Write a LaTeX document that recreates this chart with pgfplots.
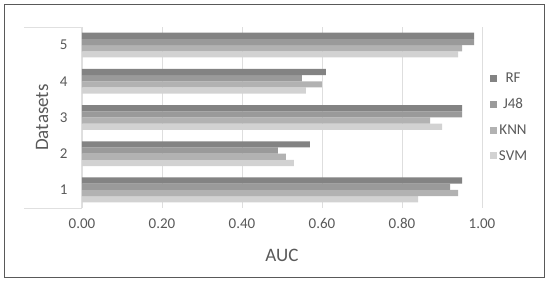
\documentclass[border=0pt]{standalone}
\usepackage{pgfplots}
\pgfplotsset{compat=1.18}
\usepackage{fontspec}
\setmainfont{Carlito}
\definecolor{txt}{HTML}{595959}
\definecolor{cRF}{HTML}{838383}
\definecolor{cJ}{HTML}{9A9A9A}
\definecolor{cK}{HTML}{B2B2B2}
\definecolor{cS}{HTML}{D2D2D2}
\begin{document}
\begin{tikzpicture}[x=1pt,y=1pt]
\path (-82,-75) rectangle (468,208);
\draw[black!65, line width=1pt] (-77,-69.5) rectangle (462,203);
\draw[black!12, line width=0.8pt] (-58,181) -- (-1,181) -- (-1,0) -- (-58,0);
\begin{axis}[
  at={(0,0)}, anchor=south west,
  scale only axis, width=400pt, height=181pt,
  xbar=0pt, bar width=6.2pt,
  xmin=0, xmax=1, ymin=0.5, ymax=5.5,
  ytick={1,2,3,4,5},
  xtick={0,0.2,0.4,0.6,0.8,1},
  xmajorgrids, grid style={black!13, line width=0.8pt},
  axis line style={draw=none},
  major tick length=0pt,
  /pgf/number format/assume math mode=true,
  xticklabel={\pgfmathprintnumber[fixed,fixed zerofill,precision=2]{\tick}},
  tick label style={font=\fontsize{15}{17}\selectfont, text=txt},
  x tick label style={yshift=-7pt},
  y tick label style={xshift=-11pt},
  xlabel={AUC}, ylabel={Datasets},
  label style={font=\fontsize{19}{21}\selectfont, text=txt},
  xlabel style={at={(axis description cs:0.5,-0.26)}, anchor=center},
  ylabel style={at={(axis description cs:-0.1,0.5)}, anchor=center, rotate=0},
  reverse legend,
  legend style={draw=none, fill=none, at={(axis description cs:1.012,0.77)}, anchor=north west,
    font=\fontsize{15}{17}\selectfont, text=txt, row sep=10.5pt,
    /tikz/every even column/.append style={column sep=1pt}},
  legend image code/.code={\fill[#1] (0pt,-3.5pt) rectangle (7pt,3.5pt);},
]
\addplot[fill=cS, draw=none] coordinates {(0.84,1) (0.53,2) (0.90,3) (0.56,4) (0.94,5)};
\addplot[fill=cK, draw=none] coordinates {(0.94,1) (0.51,2) (0.87,3) (0.60,4) (0.95,5)};
\addplot[fill=cJ, draw=none] coordinates {(0.92,1) (0.49,2) (0.95,3) (0.55,4) (0.98,5)};
\addplot[fill=cRF, draw=none] coordinates {(0.95,1) (0.57,2) (0.95,3) (0.61,4) (0.98,5)};
\legend{SVM,KNN,J48,RF}
\end{axis}
\end{tikzpicture}
\end{document}
